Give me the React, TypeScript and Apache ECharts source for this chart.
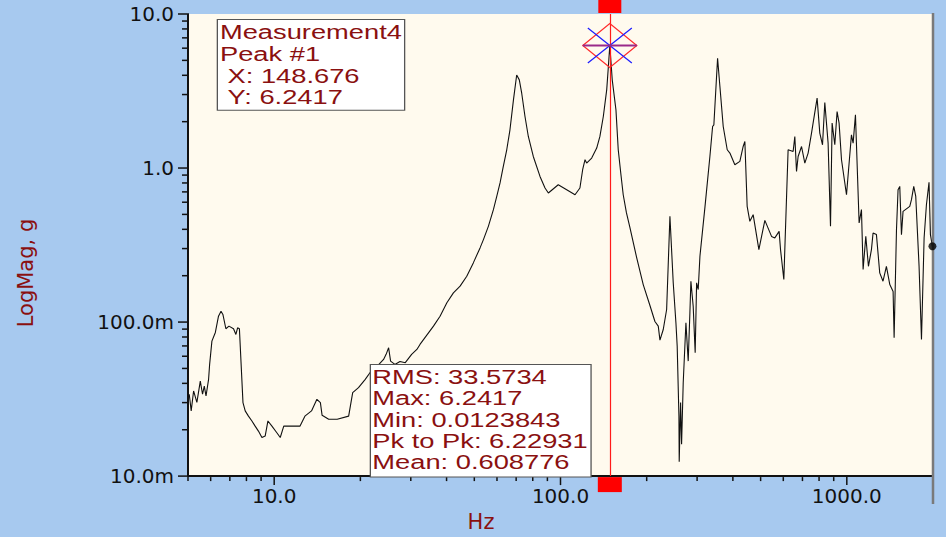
import React, { useEffect, useRef } from "react";
import * as echarts from "echarts";

// ---- data ----
const freqHz = [
  5.05, 5.13, 5.23, 5.37, 5.52, 5.62, 5.7, 5.78, 5.9, 5.95,
  6.06, 6.23, 6.39, 6.52, 6.62, 6.78, 6.95, 7.21, 7.35, 7.45,
  7.56, 7.78, 7.92, 8.13, 8.36, 8.58, 8.81, 9.06, 9.3, 9.51,
  9.82, 10.2, 10.5, 10.8, 11.4, 12.3, 12.8, 13.5, 14.1, 14.5,
  14.7, 15.5, 16.6, 18.2, 18.8, 19.7, 20.8, 21.6, 22.7, 24.1,
  24.6, 25.1, 25.5, 26.4, 27.5, 28.7, 30.2, 31.5, 32.3,
  36.0, 37.96, 40.1, 42.26, 44.6, 47.06, 49.6, 52.36, 53.8, 55.98,
  58.3, 59.89, 61.5, 63.13, 64.9, 66.6, 68.5, 70.3, 71.8, 73.2,
  75.16, 77.2, 80.35, 84.8, 88.29, 90.7, 98.2, 105.1, 112.4, 116.9,
  119.5, 121.8, 123.4, 128.5, 133.8, 137.3, 141.1, 145.0, 147.0, 148.676,
  151.6, 156.2, 159.1, 162.6, 165.6, 169.9, 174.8, 184.5, 194.5, 205.3,
  213.7, 219.5, 222.5,
  228.5, 234.8, 241.1, 247.6, 253.0, 255.6, 259.2, 259.8, 262.7, 264.8,
  268.3, 274.2, 279.3, 283.1, 285.4, 290.7, 295.4, 298.8, 302.7, 306.9,
  319.4, 332.5, 339.8, 343.3, 353.7, 360.4, 370.1, 382.2, 390.5, 406.4,
  423.1, 434.5, 440.5, 448.7, 458.5, 470.9, 493.0, 517.3, 545.9, 560.5,
  580.2, 586.8, 602.6, 623.7, 649.4, 658.3, 667.3, 676.0, 694.8, 713.4,
  732.6, 752.9, 762.5, 787.5, 804.7, 822.5, 837.8, 860.3, 877.1, 888.5,
  907.9, 924.8, 939.8, 958.2, 997.5, 1038, 1052, 1072, 1104, 1125,
  1140, 1165, 1190, 1219, 1235, 1269, 1303, 1338, 1375, 1413,
  1451, 1463, 1491, 1510, 1531, 1552, 1572, 1659, 1682, 1713,
  1741, 1788, 1823, 1862, 1897, 1937, 1959, 1991,
];
const magG = [
  0.034, 0.0265, 0.0357, 0.0301, 0.0414, 0.034, 0.0384, 0.0331, 0.0425, 0.0531,
  0.0752, 0.0856, 0.1092, 0.1177, 0.112, 0.0905, 0.0941, 0.0905, 0.0831, 0.0918,
  0.0905, 0.03, 0.0265, 0.0245, 0.0228, 0.0211, 0.0196, 0.0178, 0.0182, 0.0228,
  0.0211, 0.0192, 0.0178, 0.0211, 0.0211, 0.0211, 0.0245, 0.0265, 0.0315, 0.03,
  0.0248, 0.0234, 0.0234, 0.0245, 0.0348, 0.0375, 0.0425, 0.0469, 0.0508, 0.0572,
  0.0617, 0.0681, 0.0558, 0.0531, 0.0555, 0.0545, 0.0617, 0.0664, 0.0716,
  0.0941, 0.1092, 0.1334, 0.1548, 0.171, 0.1983, 0.2422, 0.303, 0.343, 0.4183,
  0.537, 0.654, 0.8, 1.024, 1.314, 1.771, 2.77, 4.02, 3.735, 3.06,
  2.16, 1.603, 1.189, 0.882, 0.742, 0.689, 0.779, 0.723, 0.671, 0.742,
  0.975, 1.132, 1.077, 1.161, 1.348, 1.603, 2.16, 3.218, 4.6, 6.2417,
  3.735, 2.386, 1.314, 0.905, 0.671, 0.513, 0.41, 0.262, 0.1752, 0.1281,
  0.1009, 0.0941, 0.0763,
  0.0895, 0.1207, 0.486, 0.1798, 0.099, 0.0698, 0.0245, 0.0123843, 0.03, 0.0161,
  0.0404, 0.099, 0.0558, 0.1149, 0.1841, 0.1268, 0.0632, 0.1798, 0.1627, 0.2673,
  0.553, 1.189, 1.861, 1.908, 5.16, 3.38, 1.861, 1.314, 1.251, 1.05,
  1.104, 1.38, 1.487, 0.564, 0.4507, 0.498, 0.2955, 0.4575, 0.36, 0.3518,
  0.388, 0.2955, 0.1888, 1.314, 1.281, 1.603, 0.951, 1.189, 1.38, 1.077,
  1.251, 1.686, 1.957, 2.842, 1.686, 1.416, 2.662, 1.452, 0.4183, 1.957,
  1.416, 2.327, 1.957, 1.132, 0.671, 1.644, 1.452, 2.215, 0.44, 0.537,
  0.2193, 0.36, 0.2302, 0.2955, 0.379, 0.3696, 0.2087, 0.1841, 0.2302, 0.1752,
  0.158, 0.0791, 0.398, 0.723, 0.76, 0.3696, 0.5235, 0.564, 0.623, 0.76,
  0.654, 0.2302, 0.0771, 0.3518, 0.578, 0.807, 0.3696, 0.3103,
];

const xTickValues = [10, 100, 1000];
const xTickLabels = ["10.0", "100.0", "1000.0"];
const yTickValues = [0.01, 0.1, 1, 10];
const yTickLabels = ["10.0m", "100.0m", "1.0", "10.0"];
const minorMultipliers = [1, 2, 3, 4, 5, 6, 7, 8, 9];
const decadesX = [1, 10, 100, 1000];
const decadesY = [0.01, 0.1, 1];

const X_MIN = 5;
const X_MAX = 2000;
const Y_MIN = 0.01;
const Y_MAX = 10;

const PEAK_X = 148.676;
const PEAK_Y = 6.2417;
const MEASUREMENT = "Measurement4";
const PEAK_NAME = "Peak #1";
const statNames = ["RMS", "Max", "Min", "Pk to Pk", "Mean"];
const statValues = ["33.5734", "6.2417", "0.0123843", "6.22931", "0.608776"];

const DARK_RED = "#8a1010";
const BG_BLUE = "#a7c9ef";
const PLOT_BG = "#fffaee";

function makeFormatter(values: number[], labels: string[]) {
  return (v: number) => {
    const i = values.findIndex((t) => Math.abs(Math.log10(v) - Math.log10(t)) < 1e-6);
    return i >= 0 ? labels[i] : "";
  };
}

export default function App() {
  const ref = useRef<HTMLDivElement>(null);

  useEffect(() => {
    document.body.style.margin = "0";
    if (!ref.current) return;
    const chart = echarts.init(ref.current, null, { renderer: "svg" });

    const xTicks: number[][] = [];
    decadesX.forEach((d) =>
      minorMultipliers.forEach((m) => {
        const v = m * d;
        if (v >= X_MIN && v < X_MAX) xTicks.push([v, Y_MIN, m === 1 ? 1 : 0]);
      })
    );
    const yTicks: number[][] = [];
    decadesY.forEach((d) =>
      minorMultipliers.forEach((m) => {
        const v = m * d;
        if (v >= Y_MIN && v <= Y_MAX) yTicks.push([X_MIN, v, m === 1 ? 1 : 0]);
      })
    );
    yTicks.push([X_MIN, Y_MAX, 1]);

    const lineData = freqHz.map((f, i) => [f, magG[i]]);
    const last = lineData[lineData.length - 1];

    const box1 = [MEASUREMENT, PEAK_NAME, "\u00a0X: " + PEAK_X, "\u00a0Y: " + PEAK_Y].join("\n");
    const box2 = statNames.map((n, i) => n + ": " + statValues[i]).join("\n");
    const boxFont = '21px "Liberation Sans", Arial, sans-serif';

    chart.setOption({
      animation: false,
      backgroundColor: BG_BLUE,
      grid: {
        left: 188,
        right: 13,
        top: 14,
        bottom: 60,
        show: true,
        backgroundColor: PLOT_BG,
        borderWidth: 0,
      },
      xAxis: {
        type: "log",
        logBase: 10,
        min: X_MIN,
        max: X_MAX,
        axisLine: { show: true, onZero: false, lineStyle: { color: "#111", width: 2 } },
        axisTick: { show: false },
        minorTick: { show: false },
        splitLine: { show: false },
        axisLabel: {
          formatter: makeFormatter(xTickValues, xTickLabels),
          color: "#111",
          fontFamily: "DejaVu Sans",
          fontSize: 20,
          margin: 10,
        },
        name: "Hz",
        nameLocation: "middle",
        nameGap: 32,
        nameTextStyle: {
          color: DARK_RED,
          fontFamily: "DejaVu Sans",
          fontSize: 21,
          padding: [0, 159, 0, 0],
        },
      },
      yAxis: {
        type: "log",
        logBase: 10,
        min: Y_MIN,
        max: Y_MAX,
        axisLine: { show: true, onZero: false, lineStyle: { color: "#111", width: 2 } },
        axisTick: { show: false },
        minorTick: { show: false },
        splitLine: { show: false },
        axisLabel: {
          formatter: makeFormatter(yTickValues, yTickLabels),
          color: "#111",
          fontFamily: "DejaVu Sans",
          fontSize: 20,
          margin: 14,
        },
        name: "LogMag, g",
        nameLocation: "middle",
        nameGap: 152,
        nameTextStyle: {
          color: DARK_RED,
          fontFamily: "DejaVu Sans",
          fontSize: 21,
          padding: [0, 56, 0, 0],
        },
      },
      graphic: [
        {
          type: "text",
          x: 218,
          y: 20,
          scaleX: 1.3,
          z: 100,
          style: {
            text: box1,
            font: boxFont,
            fill: DARK_RED,
            lineHeight: 21.7,
            align: "left",
            verticalAlign: "top",
            backgroundColor: "#ffffff",
            borderColor: "#555555",
            borderWidth: 1,
            padding: [1, 1.5, 2, 1.5],
          },
        },
        {
          type: "text",
          x: 371,
          y: 365,
          scaleX: 1.3,
          z: 100,
          style: {
            text: box2,
            font: boxFont,
            fill: DARK_RED,
            lineHeight: 21.3,
            align: "left",
            verticalAlign: "top",
            backgroundColor: "#ffffff",
            borderColor: "#555555",
            borderWidth: 1,
            padding: [1, 2, 4, 1],
          },
        },
      ],
      series: [
        {
          type: "line",
          data: lineData,
          showSymbol: false,
          symbol: "none",
          silent: true,
          z: 3,
          lineStyle: { color: "#111", width: 1.1 },
          markLine: {
            silent: true,
            symbol: ["none", "none"],
            label: { show: false },
            lineStyle: { color: "#ff1a1a", width: 1.2, type: "solid" },
            data: [{ xAxis: PEAK_X }],
          },
        },
        {
          type: "scatter",
          data: [last],
          symbol: "circle",
          symbolSize: 8,
          silent: true,
          z: 6,
          itemStyle: { color: "#000" },
        },
        {
          type: "custom",
          coordinateSystem: "cartesian2d",
          data: xTicks,
          encode: { x: 0, y: 1 },
          clip: false,
          silent: true,
          z: 5,
          renderItem: (params: any, api: any) => {
            const p = api.coord([api.value(0), api.value(1)]);
            const len = api.value(2) ? 8 : 4;
            return {
              type: "line",
              shape: { x1: p[0], y1: p[1] + 1, x2: p[0], y2: p[1] + 1 + len },
              style: { stroke: "#111", lineWidth: 1.5 },
            };
          },
        },
        {
          type: "custom",
          coordinateSystem: "cartesian2d",
          data: yTicks,
          encode: { x: 0, y: 1 },
          clip: false,
          silent: true,
          z: 5,
          renderItem: (params: any, api: any) => {
            const p = api.coord([api.value(0), api.value(1)]);
            const len = api.value(2) ? 9 : 5;
            return {
              type: "line",
              shape: { x1: p[0] - 1 - len, y1: p[1], x2: p[0] - 1, y2: p[1] },
              style: { stroke: "#111", lineWidth: 1.5 },
            };
          },
        },
        {
          type: "custom",
          coordinateSystem: "cartesian2d",
          data: [[X_MAX, Y_MIN]],
          encode: { x: 0, y: 1 },
          clip: false,
          silent: true,
          z: 5,
          renderItem: (params: any, api: any) => {
            const b = api.coord([X_MAX, Y_MIN]);
            const t = api.coord([X_MAX, Y_MAX]);
            return {
              type: "line",
              shape: { x1: b[0], y1: t[1] - 1, x2: b[0], y2: b[1] + 28 },
              style: { stroke: "#7a7a7a", lineWidth: 2.5 },
            };
          },
        },
        {
          type: "custom",
          coordinateSystem: "cartesian2d",
          data: [[PEAK_X, PEAK_Y]],
          encode: { x: 0, y: 1 },
          clip: false,
          silent: true,
          z: 10,
          renderItem: (params: any, api: any) => {
            const c = api.coord([api.value(0), api.value(1)]);
            const top = api.coord([api.value(0), Y_MAX])[1];
            const bot = api.coord([api.value(0), Y_MIN])[1];
            return {
              type: "group",
              children: [
                { type: "rect", shape: { x: c[0] - 11.5, y: top - 14, width: 23, height: 13 }, style: { fill: "#ff0000" } },
                { type: "rect", shape: { x: c[0] - 12, y: bot + 1, width: 24, height: 15 }, style: { fill: "#ff0000" } },
                {
                  type: "polygon",
                  shape: { points: [[c[0] - 27, c[1]], [c[0], c[1] - 22], [c[0] + 27, c[1]], [c[0], c[1] + 22]] },
                  style: { fill: "none", stroke: "#ff2a2a", lineWidth: 1.2 },
                },
                { type: "line", shape: { x1: c[0] - 22, y1: c[1] - 17.5, x2: c[0] + 22, y2: c[1] + 17.5 }, style: { stroke: "#1a1aff", lineWidth: 1.2 } },
                { type: "line", shape: { x1: c[0] + 22, y1: c[1] - 17.5, x2: c[0] - 22, y2: c[1] + 17.5 }, style: { stroke: "#1a1aff", lineWidth: 1.2 } },
                { type: "line", shape: { x1: c[0] - 27, y1: c[1], x2: c[0] + 27, y2: c[1] }, style: { stroke: "#9a2a8a", lineWidth: 2 } },
              ],
            };
          },
        },
      ],
    });

    return () => chart.dispose();
  }, []);

  return <div ref={ref} style={{ width: 946, height: 537 }} />;
}
